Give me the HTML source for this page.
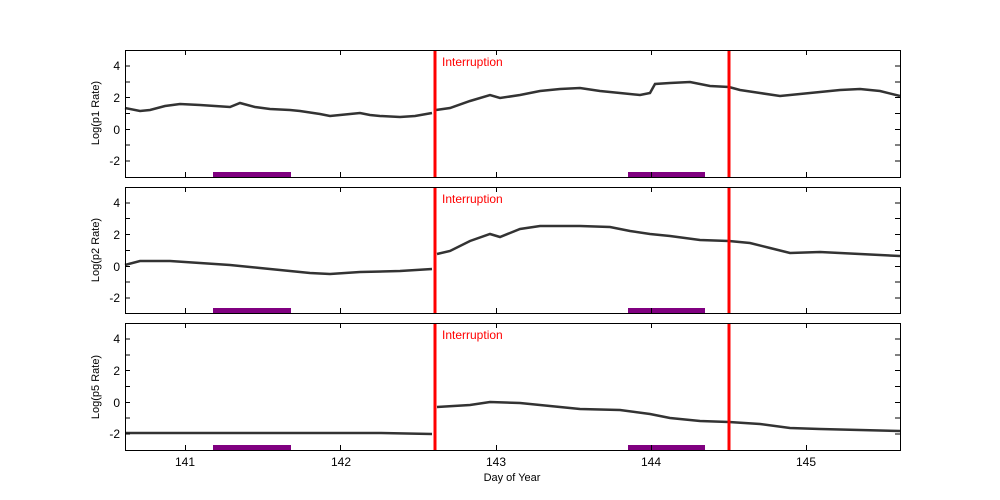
<!DOCTYPE html>
<html><head><meta charset="utf-8"><style>body{margin:0;background:#fff}svg{display:block}text{font-family:"Liberation Sans",sans-serif}</style></head>
<body>
<svg width="1000" height="500" xmlns="http://www.w3.org/2000/svg">
<rect width="1000" height="500" fill="#fff"/>
<g id="p1">
<polyline fill="none" stroke="#333" stroke-width="2.5" points="125,108 140,111 150,110 165,106 180,104 200,105 215,106 230,107 240,103 255,107 270,109 290,110 300,111 320,114 330,116 340,115 350,114 360,113 370,115 380,116 400,117 415,116 432,113"/>
<polyline fill="none" stroke="#333" stroke-width="2.5" points="436,110 450,108 470,101 490,95 500,98 520,95 540,91 560,89 580,88 600,91 620,93 640,95 650,93 655,84 670,83 690,82 710,86 729,87 740,90 760,93 780,96 800,94 820,92 840,90 860,89 880,91 900,96"/>
<rect x="213" y="172" width="78" height="5" fill="#800080"/>
<rect x="628" y="172" width="77" height="5" fill="#800080"/>
<line x1="435" y1="50" x2="435" y2="177" stroke="red" stroke-width="3"/>
<line x1="729" y1="50" x2="729" y2="177" stroke="red" stroke-width="3"/>
<text x="442" y="66" font-size="12" fill="red">Interruption</text>
<rect x="125.5" y="50.5" width="775" height="127" fill="none" stroke="#000"/>
<text x="99" y="113" font-size="11" text-anchor="middle" transform="rotate(-90 99 113)">Log(p1 Rate)</text>
</g>
<g id="p2">
<polyline fill="none" stroke="#333" stroke-width="2.5" points="125,265 140,261 170,261 200,263 230,265 260,268 290,271 310,273 330,274 360,272 400,271 432,269"/>
<polyline fill="none" stroke="#333" stroke-width="2.5" points="437,254 450,251 470,241 490,234 500,237 520,229 540,226 580,226 610,227 630,231 650,234 670,236 700,240 729,241 750,243 770,248 790,253 820,252 860,254 900,256"/>
<rect x="213" y="308" width="78" height="5" fill="#800080"/>
<rect x="628" y="308" width="77" height="5" fill="#800080"/>
<line x1="435" y1="187" x2="435" y2="313" stroke="red" stroke-width="3"/>
<line x1="729" y1="187" x2="729" y2="313" stroke="red" stroke-width="3"/>
<text x="442" y="203" font-size="12" fill="red">Interruption</text>
<rect x="125.5" y="187.5" width="775" height="126" fill="none" stroke="#000"/>
<text x="99" y="250" font-size="11" text-anchor="middle" transform="rotate(-90 99 250)">Log(p2 Rate)</text>
</g>
<g id="p3">
<polyline fill="none" stroke="#333" stroke-width="2.5" points="125,433 200,433 300,433 380,433 432,434"/>
<polyline fill="none" stroke="#333" stroke-width="2.5" points="437,407 470,405 490,402 520,403 550,406 580,409 620,410 650,414 670,418 700,421 729,422 760,424 790,428 820,429 860,430 900,431"/>
<rect x="213" y="445" width="78" height="5" fill="#800080"/>
<rect x="628" y="445" width="77" height="5" fill="#800080"/>
<line x1="435" y1="323" x2="435" y2="450" stroke="red" stroke-width="3"/>
<line x1="729" y1="323" x2="729" y2="450" stroke="red" stroke-width="3"/>
<text x="442" y="339" font-size="12" fill="red">Interruption</text>
<rect x="125.5" y="323.5" width="775" height="127" fill="none" stroke="#000"/>
<text x="99" y="387" font-size="11" text-anchor="middle" transform="rotate(-90 99 387)">Log(p5 Rate)</text>
</g>
<g stroke="#000" stroke-width="1">
<!-- y ticks panel1 -->
<path d="M125,66h5M125,82h5M125,97.5h5M125,113.5h5M125,129.5h5M125,145h5M125,161h5M900,66h-5M900,82h-5M900,97.5h-5M900,113.5h-5M900,129.5h-5M900,145h-5M900,161h-5"/>
<path d="M125,203h5M125,218.5h5M125,234.5h5M125,250.5h5M125,266.5h5M125,282h5M125,298h5M900,203h-5M900,218.5h-5M900,234.5h-5M900,250.5h-5M900,266.5h-5M900,282h-5M900,298h-5"/>
<path d="M125,339h5M125,355h5M125,370.5h5M125,386.5h5M125,402.5h5M125,418h5M125,434h5M900,339h-5M900,355h-5M900,370.5h-5M900,386.5h-5M900,402.5h-5M900,418h-5M900,434h-5"/>
<path d="M185.5,177v-5M340.5,177v-5M496.5,177v-5M651.5,177v-5M806.5,177v-5M185.5,50v5M340.5,50v5M496.5,50v5M651.5,50v5M806.5,50v5"/>
<path d="M185.5,313v-5M340.5,313v-5M496.5,313v-5M651.5,313v-5M806.5,313v-5M185.5,187v5M340.5,187v5M496.5,187v5M651.5,187v5M806.5,187v5"/>
<path d="M185.5,450v-5M340.5,450v-5M496.5,450v-5M651.5,450v-5M806.5,450v-5M185.5,323v5M340.5,323v5M496.5,323v5M651.5,323v5M806.5,323v5"/>
</g>
<g font-size="12" text-anchor="end">
<text x="120" y="70">4</text><text x="120" y="102">2</text><text x="120" y="134">0</text><text x="120" y="165">-2</text>
<text x="120" y="207">4</text><text x="120" y="239">2</text><text x="120" y="271">0</text><text x="120" y="302">-2</text>
<text x="120" y="343">4</text><text x="120" y="375">2</text><text x="120" y="407">0</text><text x="120" y="438">-2</text>
</g>
<g font-size="12" text-anchor="middle">
<text x="185" y="466">141</text><text x="341" y="466">142</text><text x="496" y="466">143</text><text x="651" y="466">144</text><text x="806" y="466">145</text>
<text x="512" y="481" font-size="11">Day of Year</text>
</g>
</svg>
</body></html>
